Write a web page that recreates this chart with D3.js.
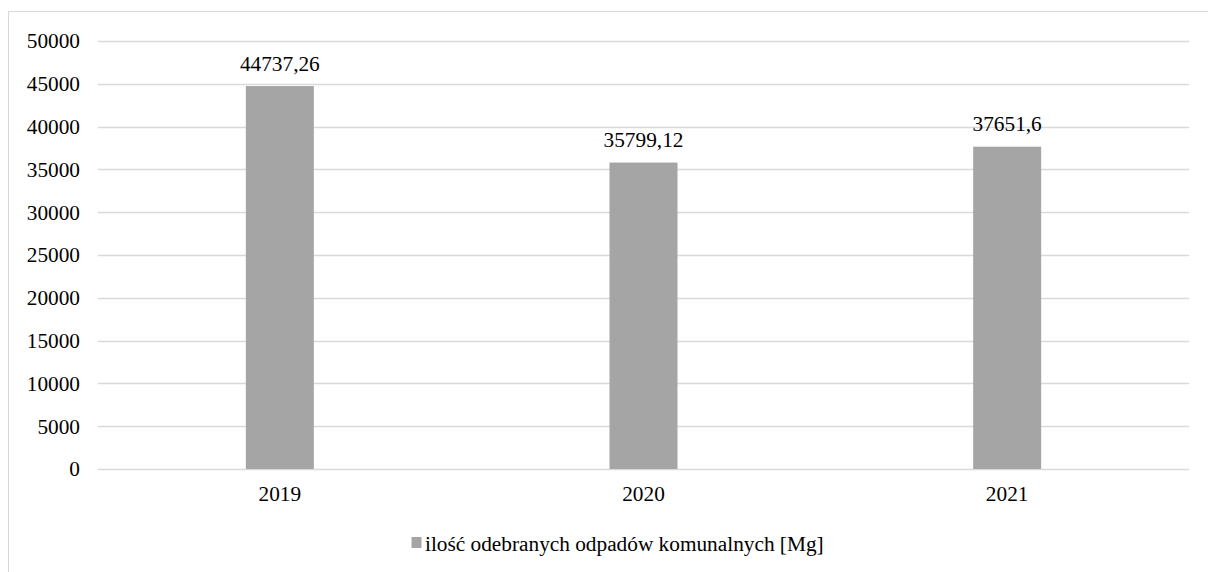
<!DOCTYPE html>
<html>
<head>
<meta charset="utf-8">
<script src="https://cdn.jsdelivr.net/npm/d3@7"></script>
<style>
  body { margin: 0; background: #fff; }
  svg { display: block; }
</style>
</head>
<body>
<div id="chart"></div>
<script>
// data
var years = ["2019", "2020", "2021"];
var values = [44737.26, 35799.12, 37651.6];
var valueLabels = ["44737,26", "35799,12", "37651,6"];
var yTicks = [0, 5000, 10000, 15000, 20000, 25000, 30000, 35000, 40000, 45000, 50000];
var seriesName = "ilość odebranych odpadów komunalnych [Mg]";

(function() {
    var W = 1208, H = 572;
    var margin = { left: 98, right: 19, top: 41, bottom: 103 };
    var font = "'Liberation Serif', 'Times New Roman', Times, 'DejaVu Serif', serif";
    var fontSize = "21.3px";

    var svg = d3.select("#chart").append("svg")
        .attr("width", W)
        .attr("height", H)
        .attr("font-family", font)
        .attr("font-size", fontSize);

    // chart area border (runs off the right and bottom edge)
    svg.append("rect")
        .attr("x", 8.5).attr("y", 11.5)
        .attr("width", W + 10).attr("height", H + 10)
        .attr("fill", "#fff")
        .attr("stroke", "#d9d9d9")
        .attr("stroke-width", 1);

    var x = d3.scaleBand()
        .domain(years)
        .range([margin.left, W - margin.right])
        .paddingInner(0.813)
        .paddingOuter(0.4065);

    var y = d3.scaleLinear()
        .domain([0, 50000])
        .range([H - margin.bottom, margin.top]);

    // gridlines
    svg.append("g").selectAll("line")
        .data(yTicks)
        .enter().append("line")
        .attr("x1", margin.left).attr("x2", W - margin.right)
        .attr("y1", function(d) { return Math.round(y(d)) + 0.5; })
        .attr("y2", function(d) { return Math.round(y(d)) + 0.5; })
        .attr("stroke", "#d9d9d9")
        .attr("stroke-width", 1.3);

    // y tick labels
    svg.append("g").selectAll("text")
        .data(yTicks)
        .enter().append("text")
        .attr("x", 80)
        .attr("y", function(d) { return y(d) + 7.3; })
        .attr("text-anchor", "end")
        .attr("fill", "#000")
        .text(function(d) { return d; });

    // bars
    svg.append("g").selectAll("rect")
        .data(values)
        .enter().append("rect")
        .attr("x", function(d, i) { return x(years[i]); })
        .attr("width", x.bandwidth())
        .attr("y", function(d) { return y(d); })
        .attr("height", function(d) { return y(0) - y(d); })
        .attr("fill", "#a5a5a5");

    // value labels
    svg.append("g").selectAll("text")
        .data(values)
        .enter().append("text")
        .attr("x", function(d, i) { return x(years[i]) + x.bandwidth() / 2; })
        .attr("y", function(d) { return y(d) - 15.5; })
        .attr("text-anchor", "middle")
        .attr("fill", "#000")
        .text(function(d, i) { return valueLabels[i]; });

    // x labels
    svg.append("g").selectAll("text")
        .data(years)
        .enter().append("text")
        .attr("x", function(d) { return x(d) + x.bandwidth() / 2; })
        .attr("y", 500.5)
        .attr("text-anchor", "middle")
        .attr("fill", "#000")
        .text(function(d) { return d; });

    // legend
    var legend = svg.append("g");
    legend.append("rect")
        .attr("x", 411.5).attr("y", 537)
        .attr("width", 10).attr("height", 11)
        .attr("fill", "#a5a5a5");
    legend.append("text")
        .attr("x", 425).attr("y", 550.5)
        .attr("fill", "#000")
        .text(seriesName);
})();
</script>
</body>
</html>
